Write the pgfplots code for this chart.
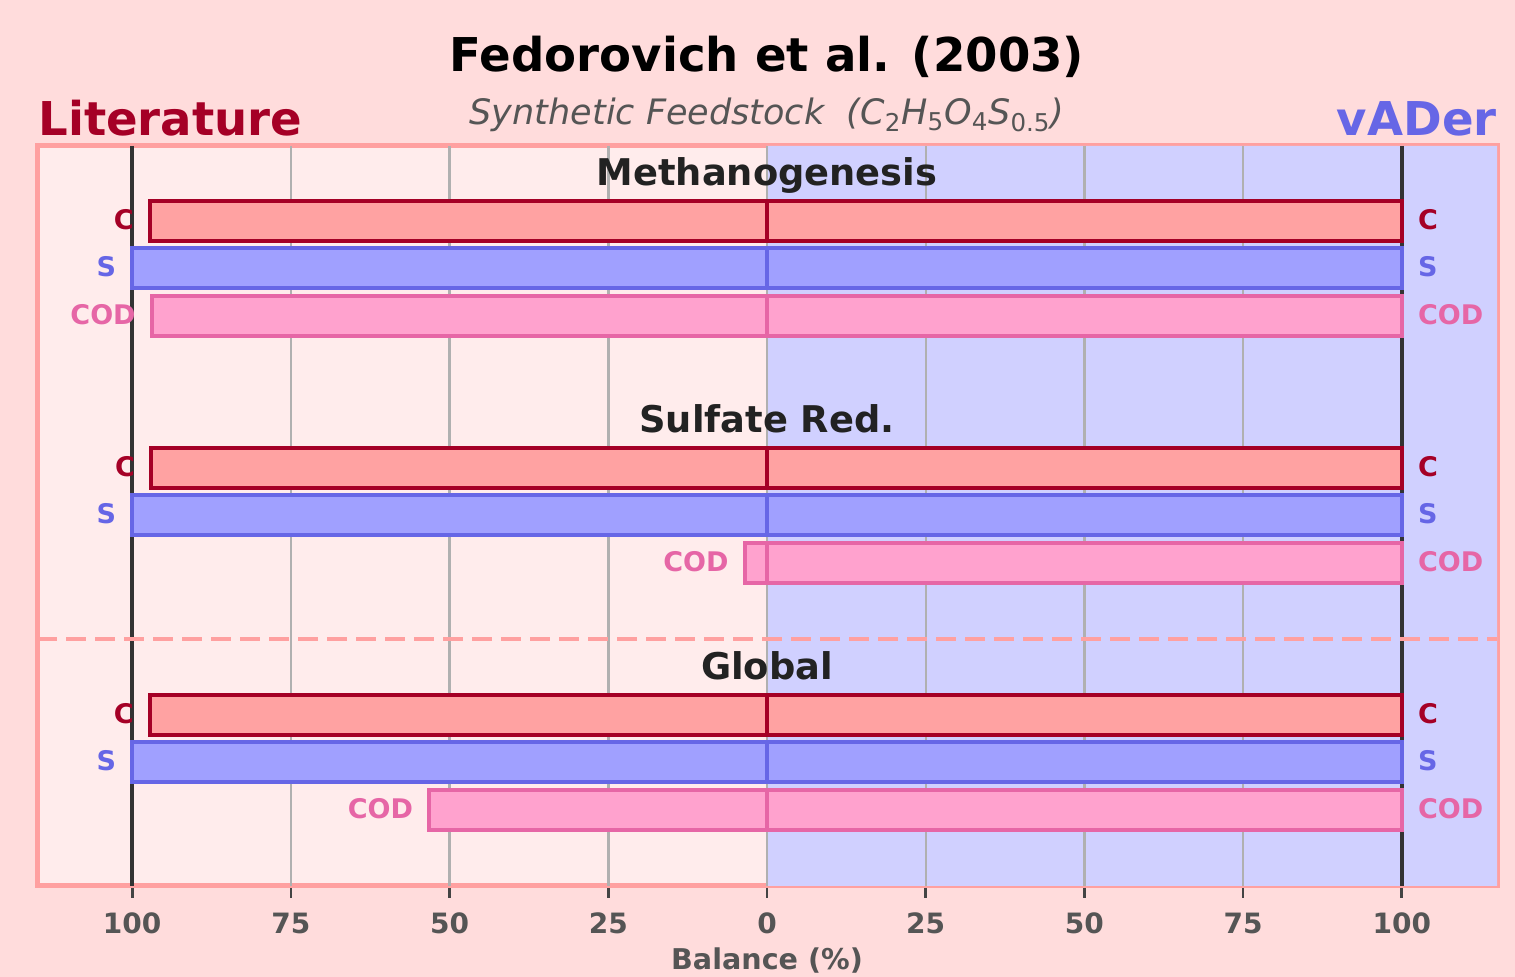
\documentclass[border=0pt]{standalone}
\usepackage{pgfplots}
\usepackage{pgfplotstable}
\pgfplotsset{compat=1.18}
\usepackage{fontspec}
\setmainfont{DejaVu Sans}
\definecolor{figbg}{RGB}{255,220,220}
\definecolor{leftbg}{RGB}{255,236,236}
\definecolor{rightbg}{RGB}{208,208,255}
\definecolor{border}{RGB}{255,160,160}
\definecolor{cfill}{RGB}{255,162,162}
\definecolor{cedge}{RGB}{165,0,38}
\definecolor{sfill}{RGB}{160,160,255}
\definecolor{sedge}{RGB}{102,102,230}
\definecolor{codfill}{RGB}{255,162,206}
\definecolor{codedge}{RGB}{230,102,166}
\definecolor{gridgray}{RGB}{176,176,176}
\definecolor{darkline}{RGB}{51,51,51}
\definecolor{labgray}{RGB}{85,85,85}
\definecolor{tickcol}{RGB}{68,68,68}
\definecolor{grptitle}{RGB}{34,34,34}
% y positions are negative row positions (top of the plot = -146)
\pgfplotstableread{
y val
-221 97.2
-468 97.0
-715 97.2
}\litC
\pgfplotstableread{
y val
-268 100
-515 100
-762 100
}\litS
\pgfplotstableread{
y val
-316 96.9
-563 3.5
-810 53.2
}\litCOD
\pgfplotstableread{
y val
-221 100
-468 100
-715 100
}\vadC
\pgfplotstableread{
y val
-268 100
-515 100
-762 100
}\vadS
\pgfplotstableread{
y val
-316 100
-563 100
-810 100
}\vadCOD
\newcommand{\lblfont}{\fontsize{13.5}{15}\selectfont\bfseries}
\begin{document}
\begin{tikzpicture}[x=1pt,y=1pt]
\fill[figbg] (0,0) rectangle (757.5,488.5);
\begin{axis}[
  at={(18.5pt,45.5pt)}, anchor=south west,
  scale only axis, width=730pt, height=370pt,
  xmin=-115, xmax=115, ymin=-886, ymax=-146,
  axis background/.style={fill=leftbg},
  axis line style={draw=border, line width=2.5pt},
  xtick={-100,-75,-50,-25,0,25,50,75,100},
  xticklabels={100,75,50,25,0,25,50,75,100},
  ytick=\empty,
  xtick pos=bottom,
  tick align=outside,
  major tick length=5.5pt,
  xtick style={draw=tickcol, line width=1.3pt},
  xticklabel style={font=\fontsize{14}{16}\selectfont\bfseries, text=labgray, yshift=-4.5pt},
  /pgf/number format/assume math mode=true,
  clip=false,
]
\addplot[fill=rightbg, draw=none] coordinates {(0,-146) (115,-146) (115,-886) (0,-886) (0,-146)};
\pgfplotsinvokeforeach{-75,-50,-25,0,25,50,75}{
  \addplot[gridgray, line width=1.2pt] coordinates {(#1,-146) (#1,-886)};
}
\addplot[darkline, line width=2pt] coordinates {(-100,-146) (-100,-886)};
\addplot[darkline, line width=2pt] coordinates {(100,-146) (100,-886)};
\addplot[border, line width=2pt, dash pattern=on 10pt off 4.5pt] coordinates {(-115,-639) (115,-639)};
% tick marks below the frame
\pgfplotsinvokeforeach{-100,-75,-50,-25,0,25,50,75,100}{
  \addplot[tickcol, line width=1.3pt] coordinates {(#1,-888) (#1,-898)};
}
% Literature (left)
\addplot[xbar, bar width=40, bar shift=0pt, fill=cfill, draw=cedge, line width=2.2pt] table[x expr=-\thisrow{val}, y=y] {\litC};
\addplot[xbar, bar width=40, bar shift=0pt, fill=sfill, draw=sedge, line width=2.2pt] table[x expr=-\thisrow{val}, y=y] {\litS};
\addplot[xbar, bar width=40, bar shift=0pt, fill=codfill, draw=codedge, line width=2.2pt] table[x expr=-\thisrow{val}, y=y] {\litCOD};
% vADer (right)
\addplot[xbar, bar width=40, bar shift=0pt, fill=cfill, draw=cedge, line width=2.2pt] table[x=val, y=y] {\vadC};
\addplot[xbar, bar width=40, bar shift=0pt, fill=sfill, draw=sedge, line width=2.2pt] table[x=val, y=y] {\vadS};
\addplot[xbar, bar width=40, bar shift=0pt, fill=codfill, draw=codedge, line width=2.2pt] table[x=val, y=y] {\vadCOD};
% left labels
\node[anchor=east, inner sep=0pt, text=cedge, font=\lblfont] at (axis cs:-99.7,-220) {C};
\node[anchor=east, inner sep=0pt, text=sedge, font=\lblfont] at (axis cs:-102.5,-267) {S};
\node[anchor=east, inner sep=0pt, text=codedge, font=\lblfont] at (axis cs:-99.4,-315) {COD};
\node[anchor=east, inner sep=0pt, text=cedge, font=\lblfont] at (axis cs:-99.5,-467) {C};
\node[anchor=east, inner sep=0pt, text=sedge, font=\lblfont] at (axis cs:-102.5,-514) {S};
\node[anchor=east, inner sep=0pt, text=codedge, font=\lblfont] at (axis cs:-6.0,-562) {COD};
\node[anchor=east, inner sep=0pt, text=cedge, font=\lblfont] at (axis cs:-99.7,-714) {C};
\node[anchor=east, inner sep=0pt, text=sedge, font=\lblfont] at (axis cs:-102.5,-761) {S};
\node[anchor=east, inner sep=0pt, text=codedge, font=\lblfont] at (axis cs:-55.7,-809) {COD};
% right labels
\node[anchor=west, inner sep=0pt, text=cedge, font=\lblfont] at (axis cs:102.5,-220) {C};
\node[anchor=west, inner sep=0pt, text=sedge, font=\lblfont] at (axis cs:102.5,-267) {S};
\node[anchor=west, inner sep=0pt, text=codedge, font=\lblfont] at (axis cs:102.5,-315) {COD};
\node[anchor=west, inner sep=0pt, text=cedge, font=\lblfont] at (axis cs:102.5,-467) {C};
\node[anchor=west, inner sep=0pt, text=sedge, font=\lblfont] at (axis cs:102.5,-514) {S};
\node[anchor=west, inner sep=0pt, text=codedge, font=\lblfont] at (axis cs:102.5,-562) {COD};
\node[anchor=west, inner sep=0pt, text=cedge, font=\lblfont] at (axis cs:102.5,-714) {C};
\node[anchor=west, inner sep=0pt, text=sedge, font=\lblfont] at (axis cs:102.5,-761) {S};
\node[anchor=west, inner sep=0pt, text=codedge, font=\lblfont] at (axis cs:102.5,-809) {COD};
% group titles
\node[anchor=base, text=grptitle, font=\fontsize{18.4}{20}\selectfont\bfseries, inner sep=0pt] at (axis cs:0,-186) {Methanogenesis};
\node[anchor=base, text=grptitle, font=\fontsize{18.4}{20}\selectfont\bfseries, inner sep=0pt] at (axis cs:0,-433) {Sulfate Red.};
\node[anchor=base, text=grptitle, font=\fontsize{18.4}{20}\selectfont\bfseries, inner sep=0pt] at (axis cs:0,-680) {Global};
\end{axis}
\node[anchor=base, inner sep=0pt, font=\fontsize{23.3}{26}\selectfont\bfseries] at (383.5,452.5) {Fedorovich et al. (2003)};
\node[anchor=base, inner sep=0pt, text=labgray, font=\fontsize{17.5}{19}\selectfont\itshape] at (383.5,426) {Synthetic Feedstock\ \ (C\textsubscript{\upshape 2}H\textsubscript{\upshape 5}O\textsubscript{\upshape 4}S\textsubscript{\upshape 0.5})};
\node[anchor=base west, inner sep=0pt, text=cedge, font=\fontsize{23.3}{26}\selectfont\bfseries] at (19,420.5) {Literature};
\node[anchor=base east, inner sep=0pt, text=sedge, font=\fontsize{23.3}{26}\selectfont\bfseries] at (748.5,420.5) {vADer};
\node[anchor=base, inner sep=0pt, text=labgray, font=\fontsize{14.3}{16}\selectfont\bfseries] at (383.5,3.5) {Balance (\%)};
\end{tikzpicture}
\end{document}
